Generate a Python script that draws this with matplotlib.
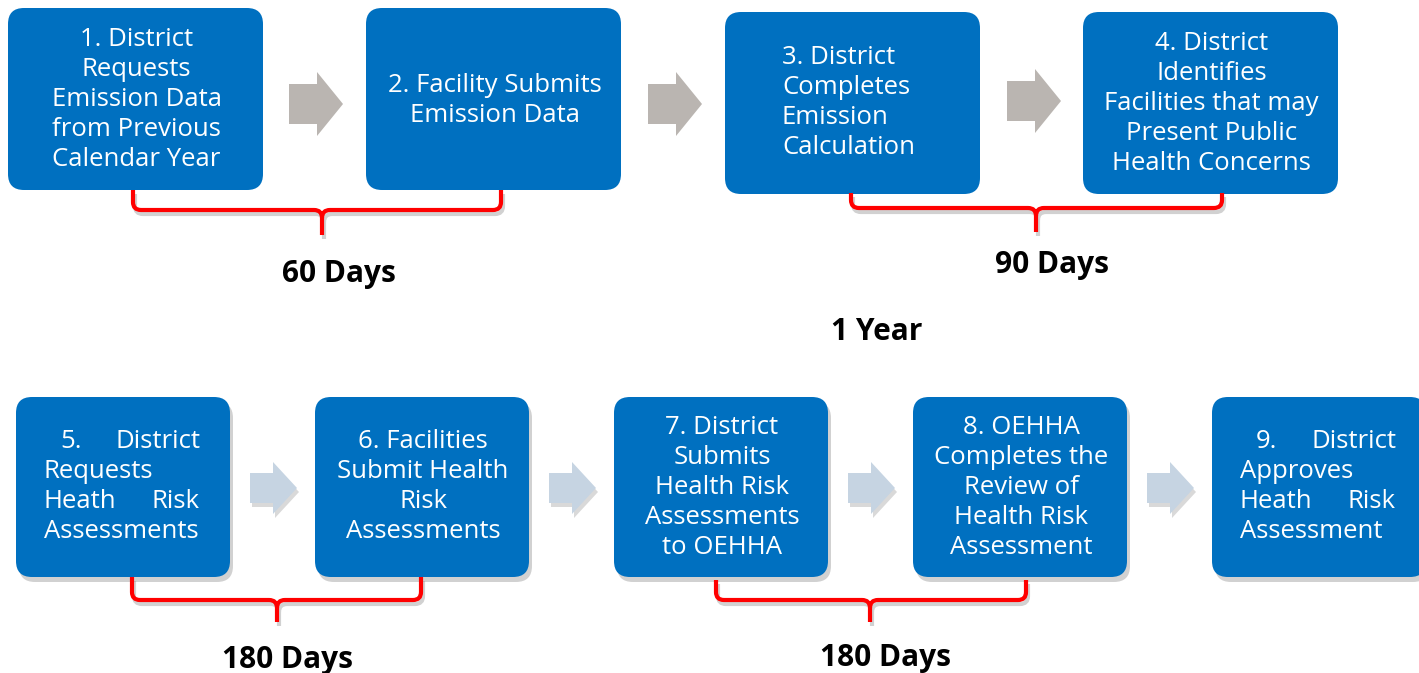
import matplotlib.pyplot as plt
from matplotlib.patches import FancyBboxPatch, Polygon
from matplotlib.path import Path
from matplotlib.patches import PathPatch

# step texts, one list of lines per box
step_lines = [
    ["1. District", "Requests", "Emission Data", "from Previous", "Calendar Year"],
    ["2. Facility Submits", "Emission Data"],
    ["3. District", "Completes", "Emission", "Calculation"],
    ["4. District", "Identifies", "Facilities that may", "Present Public", "Health Concerns"],
    ["5. District", "Requests", "Heath Risk", "Assessments"],
    ["6. Facilities", "Submit Health", "Risk", "Assessments"],
    ["7. District", "Submits", "Health Risk", "Assessments", "to OEHHA"],
    ["8. OEHHA", "Completes the", "Review of", "Health Risk", "Assessment"],
    ["9. District", "Approves", "Heath Risk", "Assessment"],
]
span_labels = ["60 Days", "90 Days", "1 Year", "180 Days", "180 Days"]

# layout (pixels, origin top-left)
box_xy = [(8, 8), (366, 8), (725, 12), (1083, 12),
          (16, 397), (315, 397), (614, 397), (913, 397), (1212, 397)]
box_wh = [(255, 182)] * 4 + [(214, 180)] * 5
line_y0 = [39, 85, 58, 43, 442, 442, 427, 427, 442]
align = ["c", "c", "l", "c", "j", "c", "c", "c", "j"]
top_arrows = [(289, 104), (648, 104), (1007, 101)]
bot_arrows = [(250, 488), (549, 488), (848, 488), (1147, 488)]
brackets = [(133, 501, 190, 210, 322, 235), (851, 1222, 193, 208, 1036, 232),
            (132, 421, 577, 600, 277, 622), (716, 1026, 580, 600, 870, 622)]
label_xy = [(339, 274), (1052, 265), (877, 332), (288, 660), (886, 658)]

BLUE = "#0070C0"
W, H = 1419, 673
fig = plt.figure(figsize=(W / 100, H / 100), dpi=100)
ax = fig.add_axes([0, 0, 1, 1])
ax.set_xlim(0, W)
ax.set_ylim(H, 0)
ax.axis("off")

txt = dict(color="white", fontsize=18.5, family="Open Sans", va="center")

for i, lines in enumerate(step_lines):
    x, y = box_xy[i]
    w, h = box_wh[i]
    if i >= 4:
        ax.add_patch(FancyBboxPatch((x + 3, y + 5), w, h, boxstyle="round,pad=0,rounding_size=16",
                                    fc="#000000", ec="none", alpha=0.18, zorder=1))
    ax.add_patch(FancyBboxPatch((x, y), w, h, boxstyle="round,pad=0,rounding_size=16",
                                fc=BLUE, ec="none", zorder=2))
    for k, line in enumerate(lines):
        ly = line_y0[i] + k * 30
        if align[i] == "c":
            ax.text(x + w / 2 + 1, ly, line, ha="center", zorder=3, **txt)
        elif align[i] == "l":
            ax.text(x + 57, ly, line, ha="left", zorder=3, **txt)
        else:
            # justified lines: spread words between left and right edge
            left, right = x + 28, x + 184
            words = line.split()
            if k == 0:
                left += 16
            if len(words) > 1 and k < len(lines) - 1:
                ax.text(left, ly, words[0], ha="left", zorder=3, **txt)
                ax.text(right, ly, words[-1], ha="right", zorder=3, **txt)
            else:
                ax.text(left, ly, line, ha="left", zorder=3, **txt)


def block_arrow(x, yc, length, body, head, head_len, color, shadow=False):
    pts = [(x, yc - body / 2), (x + length - head_len, yc - body / 2),
           (x + length - head_len, yc - head / 2), (x + length, yc),
           (x + length - head_len, yc + head / 2), (x + length - head_len, yc + body / 2),
           (x, yc + body / 2)]
    if shadow:
        ax.add_patch(Polygon([(px + 2, py + 4) for px, py in pts], closed=True,
                             fc="black", ec="none", alpha=0.15, zorder=1))
    ax.add_patch(Polygon(pts, closed=True, fc=color, ec="none", zorder=2))


for x, yc in top_arrows:
    block_arrow(x, yc, 54, 40, 64, 26, "#BAB5B1")
for x, yc in bot_arrows:
    block_arrow(x, yc, 47, 30, 52, 24, "#C6D4E2", shadow=True)

for xl, xr, yt, yh, xm, ytip in brackets:
    r = 8
    verts = [(xl, yt), (xl, yh - r), (xl, yh), (xl + r, yh), (xm - r, yh), (xm, yh), (xm, yh + r),
             (xm, ytip), (xm, yh + r), (xm, yh), (xm + r, yh), (xr - r, yh), (xr, yh), (xr, yh - r), (xr, yt)]
    codes = [Path.MOVETO, Path.LINETO, Path.CURVE3, Path.CURVE3, Path.LINETO, Path.CURVE3, Path.CURVE3,
             Path.LINETO, Path.MOVETO, Path.CURVE3, Path.CURVE3, Path.LINETO, Path.CURVE3, Path.CURVE3, Path.LINETO]
    sh = Path([(vx + 2, vy + 4) for vx, vy in verts], codes)
    ax.add_patch(PathPatch(sh, fc="none", ec="#9a9a9a", lw=3, alpha=0.45, zorder=1))
    ax.add_patch(PathPatch(Path(verts, codes), fc="none", ec="#FF0000", lw=3, zorder=4,
                           capstyle="butt", joinstyle="round"))

for (x, y), lab in zip(label_xy, span_labels):
    ax.text(x, y, lab, ha="center", va="center", fontsize=21.5, fontweight="bold",
            family="Open Sans", color="black")

fig.savefig("out.png", dpi=100)
